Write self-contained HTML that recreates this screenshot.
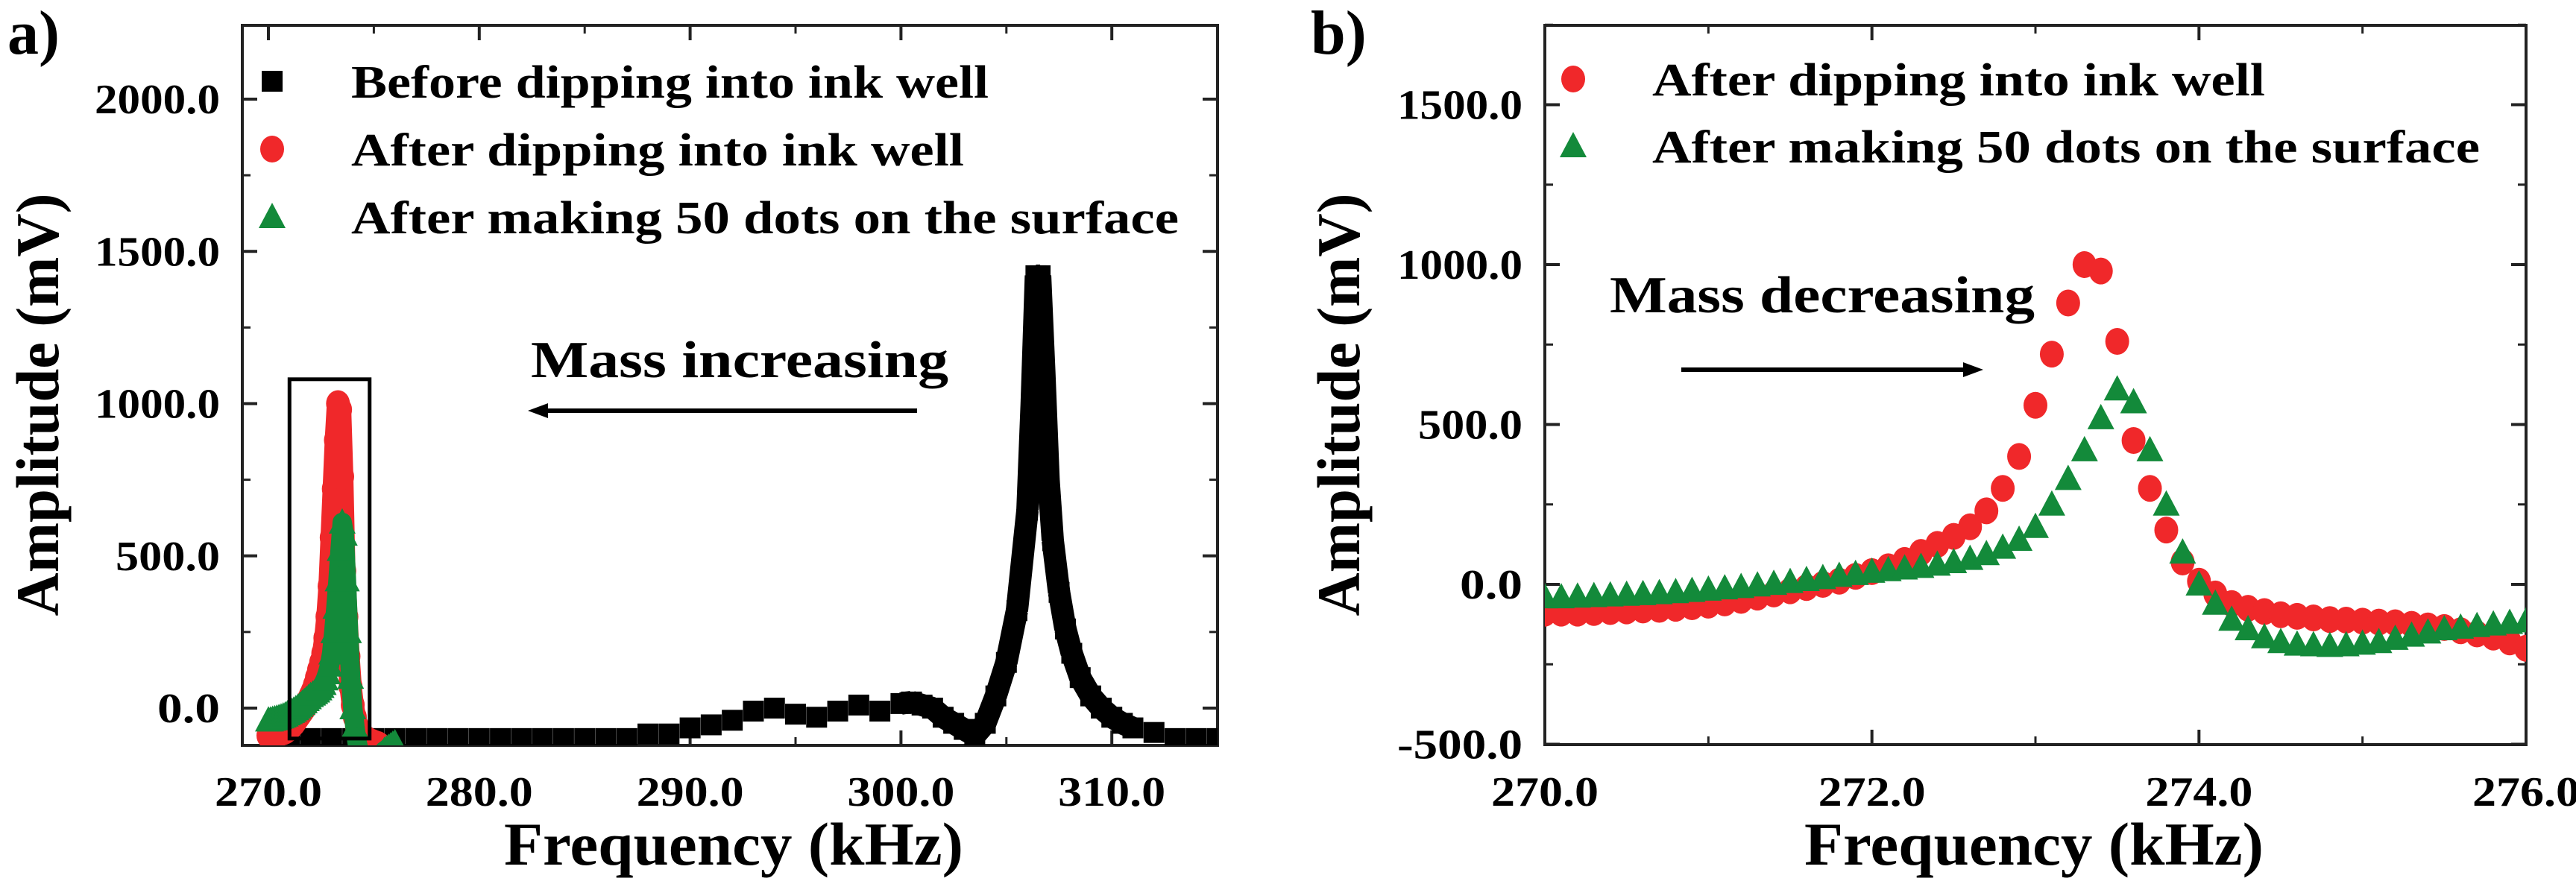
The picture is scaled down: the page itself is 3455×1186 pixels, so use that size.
<!DOCTYPE html>
<html><head><meta charset="utf-8"><style>
html,body{margin:0;padding:0;background:#fff;}
svg{display:block;font-family:"Liberation Serif",serif;font-weight:bold;}
</style></head><body>
<svg id="fig" width="3455" height="1186" viewBox="0 0 3455 1186" xmlns="http://www.w3.org/2000/svg"></svg>
<script>
// ---- data ----
const bFreqStart = 270.0, bFreqStep = 0.1;
const redAmp = [-90,-90,-90,-88,-85,-83,-80,-78,-75,-70,-65,-58,-50,-40,-30,-20,-10,0,10,25,40,55,75,100,125,150,180,230,300,400,560,
 720,880,1000,980,760,450,300,170,70,10,-30,-60,-75,-85,-95,-100,-105,-110,-112,-115,-118,-120,-125,-130,-135,-145,-155,-165,-180,-200];
const greenAmp = [-40,-40,-38,-36,-34,-32,-30,-27,-24,-20,-16,-12,-8,-3,2,8,14,20,27,33,40,45,50,55,62,70,80,95,115,140,180,
 250,330,420,520,610,570,420,250,100,0,-60,-110,-140,-165,-180,-188,-190,-192,-190,-185,-180,-170,-160,-150,-140,-135,-130,-125,-120,-115];
const blackFreq = [271,272,273,274,275,276,277,278,279,280,281,282,283,284,285,286,287,288,289,290,291,292,293,294,295,296,297,298,299,300,300.5,301,301.5,302,302.5,303,303.5,304,304.5,305,305.5,306,306.2,306.4,306.6,306.8,307,307.2,307.5,307.8,308.1,308.5,309,309.5,310,310.5,311,312,313,314,315];
const blackAmp = [-100,-100,-100,-100,-100,-100,-100,-100,-100,-100,-100,-100,-100,-100,-100,-100,-100,-85,-85,-65,-55,-40,-10,0,-20,-30,-10,10,-10,15,20,10,0,-30,-50,-70,-90,-50,40,150,320,650,1000,1420,1420,1100,750,550,380,260,180,100,40,0,-30,-50,-65,-80,-100,-100,-100];
const aXTicks = [270,280,290,300,310];
const aYTicks = [0,500,1000,1500,2000];
const bXTicks = [270,272,274,276];
const bYTicks = [-500,0,500,1000,1500];
const legendA = ["Before dipping into ink well","After dipping into ink well","After making 50 dots on the surface"];
const legendB = ["After dipping into ink well","After making 50 dots on the surface"];

const NS="http://www.w3.org/2000/svg";
const svg=document.getElementById('fig');
function mk(tag,attrs,parent){const e=document.createElementNS(NS,tag);for(const k in attrs)e.setAttribute(k,attrs[k]);(parent||svg).appendChild(e);return e;}

const A={x0:325,x1:1633,y0:34,y1:1000, fx:f=>360+(f-270)*28.28, fy:v=>950-v*0.4085};
const B={x0:2072,x1:3388,y0:34,y1:999, fx:f=>2072+(f-270)*(1316/6), fy:v=>784-v*0.429};

function frame(P,g,xt,yt,xminor,yminor){
  mk('rect',{x:P.x0,y:P.y0,width:P.x1-P.x0,height:P.y1-P.y0,fill:'none',stroke:'#222','stroke-width':4},g);
  xminor.forEach(f=>{const x=P.fx(f);mk('line',{x1:x,x2:x,y1:P.y1,y2:P.y1-11,stroke:'#222','stroke-width':3},g);mk('line',{x1:x,x2:x,y1:P.y0,y2:P.y0+11,stroke:'#222','stroke-width':3},g);});
  yminor.forEach(v=>{const y=P.fy(v);mk('line',{x1:P.x0,x2:P.x0+11,y1:y,y2:y,stroke:'#222','stroke-width':3},g);mk('line',{x1:P.x1,x2:P.x1-11,y1:y,y2:y,stroke:'#222','stroke-width':3},g);});
  xt.forEach(f=>{const x=P.fx(f);mk('line',{x1:x,x2:x,y1:P.y1,y2:P.y1-20,stroke:'#222','stroke-width':4},g);mk('line',{x1:x,x2:x,y1:P.y0,y2:P.y0+20,stroke:'#222','stroke-width':4},g);
    const t=mk('text',{x:x,y:1081,'font-size':56,'text-anchor':'middle',textLength:144,lengthAdjust:'spacingAndGlyphs'},g);t.textContent=f.toFixed(1);
    
    });
  yt.forEach(v=>{const y=P.fy(v);mk('line',{x1:P.x0,x2:P.x0+20,y1:y,y2:y,stroke:'#222','stroke-width':4},g);mk('line',{x1:P.x1,x2:P.x1-20,y1:y,y2:y,stroke:'#222','stroke-width':4},g);
    const s=v.toFixed(1);
    const t=mk('text',{x:P.x0-30,y:y+19,'font-size':56,'text-anchor':'end',textLength:s.length*28,lengthAdjust:'spacingAndGlyphs'},g);t.textContent=s;
    
    });
}
function circle(g,x,y,col){mk('ellipse',{cx:x,cy:y,rx:16,ry:18,fill:col},g);}
function tri(g,x,y,col){mk('polygon',{points:`${x},${y-19} ${x+18},${y+15} ${x-18},${y+15}`,fill:col},g);}
function sq(g,x,y){mk('rect',{x:x-14,y:y-14,width:28,height:28,fill:'#000'},g);}

function series(P,g,clipId,thick){
  const gr=mk('g',{'clip-path':`url(#${clipId})`},g);
  
  
  if(thick){mk('polyline',{points:redAmp.map((v,i)=>P.fx(bFreqStart+i*bFreqStep)+','+P.fy(v)).join(' '),fill:'none',stroke:'#f0282a','stroke-width':30,'stroke-linejoin':'round'},gr);}
  redAmp.forEach((v,i)=>circle(gr,P.fx(bFreqStart+i*bFreqStep),P.fy(v),'#f0282a'));
  const gg=mk('g',{'clip-path':`url(#${clipId})`},g);
  
  
  if(thick){mk('polyline',{points:greenAmp.map((v,i)=>P.fx(bFreqStart+i*bFreqStep)+','+P.fy(v)).join(' '),fill:'none',stroke:'#138a3a','stroke-width':26,'stroke-linejoin':'round'},gg);}
  greenAmp.forEach((v,i)=>tri(gg,P.fx(bFreqStart+i*bFreqStep),P.fy(v),'#138a3a'));
}
const defs=mk('defs',{});
mk('rect',{x:A.x0,y:A.y0,width:A.x1-A.x0,height:A.y1-A.y0},mk('clipPath',{id:'clipA'},defs));
mk('rect',{x:B.x0,y:B.y0,width:B.x1-B.x0,height:B.y1-B.y0},mk('clipPath',{id:'clipB'},defs));

// ---- panel a ----
const ga=mk('g',{});


const minA=[];for(let f=270;f<=315;f+=5)minA.push(f);
const minAy=[];for(let v=0;v<=2200;v+=250)minAy.push(v);
frame(A,ga,aXTicks,aYTicks,minA,minAy);
const gk=mk('g',{'clip-path':'url(#clipA)'},ga);


for(let i=1;i<blackFreq.length;i++){ if(blackFreq[i]-blackFreq[i-1]<=0.6){
  mk('line',{x1:A.fx(blackFreq[i-1]),y1:A.fy(blackAmp[i-1]),x2:A.fx(blackFreq[i]),y2:A.fy(blackAmp[i]),stroke:'#000','stroke-width':30},gk);}}
blackFreq.forEach((f,i)=>sq(gk,A.fx(f),A.fy(blackAmp[i])));
series(A,ga,'clipA',true);
const box=mk('rect',{x:A.fx(271),y:A.fy(1080),width:A.fx(274.8)-A.fx(271),height:A.fy(-100)-A.fy(1080),fill:'none',stroke:'#000','stroke-width':5},ga);


const la=mk('g',{},ga);


sq(la,365,109);circle(la,365,200,'#f0282a');tri(la,365,291,'#138a3a');
[[legendA[0],109,855],[legendA[1],200,822],[legendA[2],291,1110]].forEach(([s,y,w])=>{
  const t=mk('text',{x:471,y:y+22,'font-size':62,textLength:w,lengthAdjust:'spacingAndGlyphs'},la);t.textContent=s;
  
  });
let t=mk('text',{x:712,y:506,'font-size':70,textLength:560,lengthAdjust:'spacingAndGlyphs'},ga);t.textContent='Mass increasing';

mk('line',{x1:1230,y1:551,x2:730,y2:551,stroke:'#000','stroke-width':6},ga);
mk('polygon',{points:'708,551 735,541 735,561',fill:'#000'},ga);
t=mk('text',{x:984,y:1160,'font-size':82,'text-anchor':'middle',textLength:616,lengthAdjust:'spacingAndGlyphs'},ga);t.textContent='Frequency (kHz)';

t=mk('text',{x:0,y:0,'font-size':82,'text-anchor':'middle',textLength:567,lengthAdjust:'spacingAndGlyphs',transform:'translate(78,543) rotate(-90)'},ga);t.textContent='Amplitude (mV)';

t=mk('text',{x:10,y:72,'font-size':84},ga);t.textContent='a)';


// ---- panel b ----
const gb=mk('g',{});


const minB=[];for(let f=270;f<=276;f+=1)minB.push(f);
const minBy=[];for(let v=-500;v<=1750;v+=250)minBy.push(v);
frame(B,gb,bXTicks,bYTicks,minB,minBy);
series(B,gb,'clipB',false);
const lb=mk('g',{},gb);


circle(lb,2110,106,'#f0282a');tri(lb,2110,196,'#138a3a');
[[legendB[0],106,822],[legendB[1],196,1110]].forEach(([s,y,w])=>{
  const t=mk('text',{x:2216,y:y+22,'font-size':62,textLength:w,lengthAdjust:'spacingAndGlyphs'},lb);t.textContent=s;
  
  });
t=mk('text',{x:2159,y:419,'font-size':70,textLength:570,lengthAdjust:'spacingAndGlyphs'},gb);t.textContent='Mass decreasing';

mk('line',{x1:2255,y1:496,x2:2635,y2:496,stroke:'#000','stroke-width':6},gb);
mk('polygon',{points:'2660,496 2633,486 2633,506',fill:'#000'},gb);
t=mk('text',{x:2728,y:1160,'font-size':82,'text-anchor':'middle',textLength:616,lengthAdjust:'spacingAndGlyphs'},gb);t.textContent='Frequency (kHz)';

t=mk('text',{x:0,y:0,'font-size':82,'text-anchor':'middle',textLength:567,lengthAdjust:'spacingAndGlyphs',transform:'translate(1823,543) rotate(-90)'},gb);t.textContent='Amplitude (mV)';

t=mk('text',{x:1758,y:72,'font-size':84},gb);t.textContent='b)';

</script>
</body></html>
